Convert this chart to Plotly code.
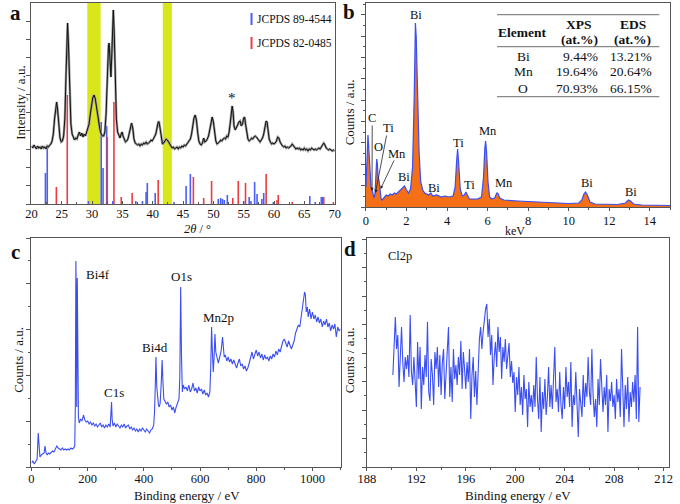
import numpy as np
import plotly.graph_objects as go

W, H = 680, 504
FONT = "Liberation Serif"


def PX(x):
    return x / W


def PY(y):
    return 1 - y / H


# ---------------- Panel a: XRD ----------------
xrd_2theta = [20.0, 20.2, 20.4, 20.6, 20.8, 21.0, 21.2, 21.4, 21.6, 21.8, 22.0, 22.2, 22.4, 22.6, 22.8, 23.0,
              23.2, 23.4, 23.6, 23.8, 24.0, 24.15, 24.3, 24.5, 24.7, 24.9, 25.1, 25.3, 25.5, 25.7, 25.85, 25.95,
              26.1, 26.3, 26.5, 26.7, 26.9, 27.1, 27.3, 27.5, 27.7, 27.9, 28.1, 28.3, 28.5, 28.7, 28.9, 29.1,
              29.3, 29.5, 29.7, 29.9, 30.1, 30.3, 30.5, 30.7, 30.9, 31.1, 31.3, 31.5, 31.7, 31.9, 32.1, 32.3,
              32.5, 32.7, 32.8, 32.95, 33.1, 33.25, 33.4, 33.5, 33.65, 33.8, 34.0, 34.2, 34.4, 34.6, 34.8, 34.95,
              35.1, 35.3, 35.5, 35.7, 35.9, 36.1, 36.3, 36.5, 36.7, 36.9, 37.1, 37.3, 37.5, 37.7, 37.9, 38.1,
              38.3, 38.5, 38.7, 38.9, 39.1, 39.3, 39.5, 39.7, 39.9, 40.1, 40.3, 40.5, 40.7, 40.9, 41.05, 41.2,
              41.4, 41.6, 41.8, 42.0, 42.2, 42.4, 42.6, 42.8, 43.0, 43.2, 43.4, 43.6, 43.8, 44.0, 44.2, 44.4,
              44.6, 44.8, 45.0, 45.2, 45.4, 45.6, 45.8, 46.0, 46.2, 46.4, 46.6, 46.8, 47.0, 47.2, 47.4, 47.6,
              47.8, 48.0, 48.2, 48.4, 48.6, 48.8, 49.0, 49.2, 49.4, 49.6, 49.8, 50.0, 50.2, 50.4, 50.6, 50.8,
              51.0, 51.2, 51.4, 51.6, 51.8, 52.0, 52.2, 52.4, 52.6, 52.8, 53.0, 53.1, 53.25, 53.4, 53.6, 53.8,
              54.0, 54.2, 54.4, 54.6, 54.8, 55.0, 55.15, 55.3, 55.5, 55.7, 55.9, 56.1, 56.3, 56.5, 56.7, 56.9,
              57.1, 57.3, 57.5, 57.7, 57.9, 58.1, 58.3, 58.5, 58.7, 58.85, 59.0, 59.2, 59.4, 59.6, 59.8, 60.0,
              60.2, 60.4, 60.6, 60.8, 61.0, 61.2, 61.4, 61.6, 61.8, 62.0, 62.2, 62.4, 62.6, 62.8, 63.0, 63.2,
              63.4, 63.6, 63.8, 64.0, 64.2, 64.4, 64.6, 64.8, 65.0, 65.2, 65.4, 65.6, 65.8, 66.0, 66.2, 66.4,
              66.6, 66.8, 67.0, 67.2, 67.4, 67.6, 67.8, 68.0, 68.2, 68.4, 68.6, 68.8, 69.0, 69.2, 69.4, 69.6,
              69.8, 70.0]
xrd_intensity = [58, 56, 59, 57, 55, 58, 56, 57, 55, 58, 56, 57, 55, 58, 57, 59,
                 60, 63, 70, 85, 98, 102, 95, 78, 66, 62, 63, 68, 85, 130, 175, 181,
                 160, 110, 80, 70, 67, 64, 66, 65, 69, 72, 68, 71, 67, 70, 68, 72,
                 75, 80, 90, 100, 106, 109, 106, 98, 88, 80, 74, 70, 68, 68, 72, 90,
                 130, 158, 161, 140, 127, 150, 185, 194, 170, 120, 85, 72, 68, 66, 70, 72,
                 68, 64, 62, 63, 65, 70, 78, 81, 76, 65, 61, 60, 59, 60, 58, 60,
                 59, 61, 60, 62, 60, 61, 62, 64, 63, 65, 67, 70, 76, 82, 82, 75,
                 64, 60, 61, 63, 65, 64, 62, 59, 57, 56, 57, 55, 56, 57, 55, 57,
                 56, 58, 57, 59, 58, 60, 61, 63, 65, 70, 78, 86, 89, 84, 72, 63,
                 60, 59, 61, 66, 62, 63, 65, 68, 74, 83, 87, 82, 70, 63, 60, 61,
                 62, 64, 63, 65, 66, 65, 68, 67, 72, 82, 95, 98, 92, 78, 74, 76,
                 79, 82, 83, 78, 80, 86, 87, 80, 70, 65, 63, 64, 66, 65, 67, 68,
                 67, 65, 63, 62, 64, 66, 70, 76, 83, 82, 74, 65, 62, 60, 61, 60,
                 61, 63, 67, 66, 62, 59, 58, 57, 58, 56, 57, 56, 57, 58, 60, 58,
                 56, 55, 56, 55, 56, 54, 55, 54, 56, 54, 55, 53, 55, 54, 56, 55,
                 54, 55, 54, 55, 56, 55, 57, 59, 61, 59, 56, 55, 54, 55, 54, 53,
                 54, 53]

jcpds_89_4544_pos = [22.3, 22.6, 29.4, 31.5, 31.8, 32.4, 33.4, 37.2, 38.3, 38.9, 39.1, 40.4, 43.5, 45.5,
                     46.2, 50.8, 51.2, 51.5, 51.8, 52.3, 55.0, 55.9, 56.2, 56.8, 57.2, 58.0, 58.3, 59.9,
                     65.9, 66.8, 67.8, 68.0]
jcpds_89_4544_int = [31, 56, 3, 82, 36, 78, 3, 3, 3, 12, 21, 11, 2, 18,
                     30, 5, 6, 5, 4, 9, 3, 7, 3, 22, 10, 5, 11, 2,
                     8, 2, 7, 7]
jcpds_82_0485_pos = [24.1, 25.9, 32.5, 33.6, 34.8, 36.6, 40.9, 46.7, 48.4, 49.7, 53.2, 54.1, 55.3,
                     58.7, 60.5, 60.7, 63.0, 68.2, 69.8]
jcpds_82_0485_int = [17, 109, 67, 102, 7, 11, 24, 27, 6, 23, 6, 23, 21,
                     30, 4, 9, 2, 7, 2]
highlight_bands = [(29.2, 31.4), (41.65, 43.15)]
legend_labels = ["JCPDS 89-4544", "JCPDS 82-0485"]

# ---------------- Panel b: EDS ----------------
eds_kev = [0.00, 0.05, 0.10, 0.15, 0.20, 0.25, 0.30, 0.35, 0.40, 0.45, 0.50, 0.53, 0.56, 0.60, 0.65, 0.70,
           0.75, 0.80, 0.90, 1.00, 1.10, 1.20, 1.30, 1.40, 1.50, 1.60, 1.70, 1.80, 1.90, 2.00, 2.10, 2.20,
           2.30, 2.38, 2.44, 2.48, 2.55, 2.62, 2.70, 2.80, 2.90, 3.00, 3.10, 3.20, 3.30, 3.50, 3.70, 3.90,
           4.10, 4.30, 4.40, 4.47, 4.52, 4.57, 4.65, 4.75, 4.85, 4.93, 5.00, 5.10, 5.30, 5.50, 5.70, 5.80,
           5.86, 5.90, 5.95, 6.02, 6.10, 6.20, 6.35, 6.45, 6.50, 6.60, 6.80, 7.00, 7.50, 8.00, 8.50, 9.00,
           9.50, 10.00, 10.50, 10.65, 10.75, 10.83, 10.92, 11.05, 11.30, 11.80, 12.40, 12.80, 12.95, 13.05,
           13.20, 13.60, 14.20, 15.00]
eds_counts = [20, 50, 72, 55, 30, 20, 17, 12, 9, 14, 38, 48, 44, 30, 26, 15,
              8, 7, 9, 12, 11, 13, 12, 14, 13, 15, 16, 19, 21, 17, 14, 18,
              40, 110, 184, 170, 110, 55, 25, 17, 14, 13, 12, 14, 11, 12, 10, 11,
              10, 11, 20, 45, 58, 45, 18, 11, 12, 15, 12, 8, 8, 8, 10, 30,
              58, 66, 55, 25, 10, 8, 9, 14, 14, 9, 7, 6.5, 6, 5.5, 5, 4.5,
              4, 3.5, 4, 7, 13, 15, 12, 5, 3, 2.5, 2.5, 4, 7, 6,
              3, 2, 1.5, 1.5]
eds_labels = ["Bi", "C", "O", "Ti", "Mn", "Bi", "Bi", "Ti", "Ti", "Mn", "Mn", "Bi", "Bi"]
eds_label_kev = [2.45, 0.32, 0.6, 1.1, 1.55, 1.9, 3.35, 4.55, 5.1, 6.0, 6.8, 10.9, 13.05]
eds_label_cnt = [192, 89, 60, 79, 53, 30, 19, 64, 22, 76, 24, 24, 15]

table_elements = ["Bi", "Mn", "O"]
table_xps = ["9.44%", "19.64%", "70.93%"]
table_eds = ["13.21%", "20.64%", "66.15%"]

# ---------------- Panel c: XPS survey ----------------
xps_be = [0, 5, 10, 15, 20, 24, 27, 30, 35, 40, 45, 48, 52, 56, 60, 65, 70, 75, 80, 85, 90, 95, 100, 105,
          110, 115, 120, 125, 130, 135, 140, 145, 150, 154, 156, 158, 160, 161, 163, 165, 167, 170, 175,
          180, 185, 190, 195, 200, 205, 210, 215, 220, 225, 230, 235, 240, 245, 250, 255, 260, 265, 270,
          275, 280, 283, 285, 287, 290, 295, 300, 305, 310, 315, 320, 325, 330, 335, 340, 345, 350, 355,
          360, 365, 370, 375, 380, 385, 390, 395, 400, 405, 410, 415, 420, 425, 430, 435, 438, 441, 443,
          446, 449, 452, 455, 458, 462, 465, 468, 471, 475, 480, 485, 490, 495, 500, 505, 510, 515, 520,
          525, 528, 531, 534, 537, 540, 545, 550, 555, 560, 565, 570, 575, 580, 585, 590, 595, 600, 605,
          610, 615, 620, 625, 630, 635, 638, 641, 644, 647, 650, 653, 656, 660, 665, 670, 675, 680, 683,
          686, 690, 695, 700, 705, 710, 715, 720, 725, 730, 735, 740, 745, 750, 755, 760, 765, 770, 775,
          780, 785, 790, 795, 800, 805, 810, 815, 820, 825, 830, 835, 840, 845, 850, 855, 860, 865, 870,
          875, 880, 885, 890, 895, 900, 905, 910, 915, 920, 925, 930, 935, 940, 945, 950, 955, 960, 965,
          968, 972, 975, 978, 982, 985, 990, 995, 1000, 1005, 1010, 1015, 1020, 1025, 1030, 1035, 1040,
          1045, 1050, 1055, 1060, 1065, 1070, 1075, 1080, 1085, 1090, 1095, 1100]
xps_counts = [4, 6, 3, 5, 8, 34, 15, 10, 12, 13, 14, 21, 14, 12, 14, 13, 15, 16, 15, 18, 21, 19, 18, 17,
              19, 17, 18, 17, 18, 17, 19, 18, 19, 21, 60, 206, 150, 60, 189, 120, 50, 44, 48,
              46, 52, 47, 45, 46, 43, 45, 42, 44, 41, 43, 40, 42, 44, 40, 42, 39, 42, 40,
              43, 40, 50, 65, 48, 41, 44, 40, 43, 41, 39, 42, 40, 43, 39, 41, 42, 38, 40,
              37, 39, 36, 38, 35, 38, 36, 39, 37, 35, 38, 36, 34, 37, 38, 42, 55, 85, 110,
              80, 65, 62, 60, 64, 85, 107, 85, 68, 66, 63, 65, 60, 62, 57, 60, 54, 60, 64,
              68, 90, 180, 110, 75, 82, 78, 80, 76, 82, 75, 78, 84, 76, 79, 74, 80, 76, 78,
              73, 77, 72, 74, 70, 75, 100, 140, 115, 95, 110, 133, 115, 108, 104, 110, 116, 130, 122,
              110, 112, 106, 110, 105, 108, 103, 107, 102, 99, 104, 108, 101, 103, 98, 101, 96, 99, 104,
              110, 115, 108, 114, 117, 111, 115, 109, 113, 107, 112, 108, 110, 106, 111, 108, 113, 110, 116,
              112, 118, 115, 121, 126, 128, 124, 120, 126, 122, 118, 122, 126, 134, 138, 142, 140, 150, 158,
              165, 175, 172, 155, 160, 150, 158, 148, 155, 148, 152, 145, 150, 144, 148, 140, 146,
              142, 148, 140, 144, 136, 142, 138, 143, 130, 140, 136, 138]
xps_labels = ["Bi4f", "C1s", "Bi4d", "O1s", "Mn2p"]
xps_label_be = [191, 295, 438, 535, 665]
xps_label_cnt = [193, 75, 120, 191, 150]

# ---------------- Panel d: Cl2p ----------------
cl2p_start, cl2p_step = 190.1, 0.1
cl2p_counts = [92, 128, 150, 118, 132, 80, 122, 140, 105, 85, 110, 98, 112, 90, 152, 95, 82, 110, 86, 60,
               125, 88, 120, 58, 100, 82, 112, 90, 145, 75, 66, 108, 92, 62, 115, 98, 120, 80, 112, 72,
               104, 118, 68, 96, 110, 140, 70, 100, 65, 118, 88, 102, 82, 110, 92, 126, 78, 115, 98, 78,
               105, 85, 118, 48, 92, 110, 70, 96, 62, 100,
               128, 140, 118, 135, 150, 158, 163, 130, 148, 112, 132, 82, 110, 125, 100, 140, 115, 130, 88, 120,
               105, 128, 98, 112, 124, 90, 106, 84, 95, 55,
               90, 72, 100, 62, 80, 52, 92, 68, 78, 40, 85, 60, 72, 55, 82, 60, 110, 68, 48, 90,
               35, 75, 58, 88, 52, 70, 100, 60, 82, 58, 95, 120, 65, 78, 55, 95, 62, 48, 80, 58,
               100, 70, 85, 60, 105, 40, 72, 62, 95, 55, 30, 78, 65, 50, 92, 60, 84, 70, 110, 75,
               62, 118, 72, 50, 68, 40, 88, 62, 108, 70, 55, 80, 62, 92, 35, 78, 66, 85, 60, 72,
               48, 88, 65, 78, 50, 118, 62, 40, 82, 58, 90, 45, 75, 60, 85, 65, 92, 48, 140, 45, 80]
cl2p_be = np.round(cl2p_start + cl2p_step * np.arange(len(cl2p_counts)), 2)

BLUE = "#3a4ef2"
STICK_BLUE = "#4b5ef5"
STICK_RED = "#ec3c40"
ORANGE = "#f56f16"
YELLOW = "#d9e619"
AXC = "#555555"


def sticks(pos, vals):
    xs, ys = [], []
    for p, v in zip(pos, vals):
        xs += [p, p, None]
        ys += [0, v, None]
    return xs, ys


fig = go.Figure()

# panel a
bx, by = sticks(jcpds_89_4544_pos, jcpds_89_4544_int)
fig.add_trace(go.Scatter(x=bx, y=by, mode="lines", line=dict(color=STICK_BLUE, width=1.6),
                         xaxis="x", yaxis="y", showlegend=False, hoverinfo="skip"))
rx, ry = sticks(jcpds_82_0485_pos, jcpds_82_0485_int)
fig.add_trace(go.Scatter(x=rx, y=ry, mode="lines", line=dict(color=STICK_RED, width=1.6),
                         xaxis="x", yaxis="y", showlegend=False, hoverinfo="skip"))
fig.add_trace(go.Scatter(x=xrd_2theta, y=xrd_intensity, mode="lines", line=dict(color="#999999", width=2.4),
                         xaxis="x", yaxis="y", showlegend=False))
fig.add_trace(go.Scatter(x=xrd_2theta, y=xrd_intensity, mode="lines", line=dict(color="#111111", width=1.0),
                         xaxis="x", yaxis="y", showlegend=False))

# panel b
fig.add_trace(go.Scatter(x=eds_kev, y=eds_counts, mode="lines", fill="tozeroy", fillcolor=ORANGE,
                         line=dict(color=BLUE, width=1.2), xaxis="x2", yaxis="y2", showlegend=False))

# panel c
fig.add_trace(go.Scatter(x=xps_be, y=xps_counts, mode="lines", line=dict(color=BLUE, width=1.1),
                         xaxis="x3", yaxis="y3", showlegend=False))

# panel d
fig.add_trace(go.Scatter(x=cl2p_be, y=cl2p_counts, mode="lines", line=dict(color=BLUE, width=1.1),
                         xaxis="x4", yaxis="y4", showlegend=False))


def xax(dom, rng, dtick, minor, tick0=None, anchor="y", standoff=0, ticks="outside"):
    d = dict(domain=dom, range=rng, dtick=dtick, ticks=ticks, ticklen=3, tickcolor=AXC,
             showline=True, linecolor=AXC, linewidth=1, mirror=True, showgrid=False, zeroline=False,
             tickfont=dict(family=FONT, size=12.5, color="#111"), anchor=anchor,
             ticklabelstandoff=standoff,
             minor=dict(dtick=minor, ticks=ticks, ticklen=2, tickcolor=AXC))
    if tick0 is not None:
        d["tick0"] = tick0
        d["minor"]["tick0"] = tick0
    return d


def yax(dom, rng, dtick, minor=None, anchor="x"):
    d = dict(domain=dom, range=rng, tick0=0, dtick=dtick, ticks="outside", ticklen=4, tickcolor=AXC,
             showline=True, linecolor=AXC, linewidth=1, mirror=True, showgrid=False, zeroline=False,
             showticklabels=False, anchor=anchor)
    if minor:
        d["minor"] = dict(tick0=0, dtick=minor, ticks="outside", ticklen=2, tickcolor=AXC)
    return d


fig.update_layout(
    width=W, height=H, margin=dict(l=0, r=0, t=0, b=0),
    paper_bgcolor="white", plot_bgcolor="white",
    font=dict(family=FONT, size=13, color="#111"),
    xaxis=xax([PX(23), PX(333)], [20, 70], 5, 2.5, anchor="y", standoff=-2, ticks="inside"),
    yaxis=yax([PY(204), PY(3)], [0, 201], 18.3, anchor="x"),
    xaxis2=xax([PX(365), PX(676)], [0, 15], 2, 1, anchor="y2", standoff=-1),
    yaxis2=yax([PY(207), PY(3)], [0, 204], 21.35, 10.675, anchor="x2"),
    xaxis3=xax([PX(23), PX(339)], [0, 1100], 200, 100, anchor="y3", standoff=-3),
    yaxis3=yax([PY(467), PY(238)], [0, 229], 45.8, 22.9, anchor="x3"),
    xaxis4=xax([PX(366), PX(675)], [188, 212.45], 4, 2, tick0=188, anchor="y4", standoff=-3),
    yaxis4=yax([PY(467), PY(238)], [0, 229], 28.5, 14.25, anchor="x4"),
)

shapes = []
for x0, x1 in highlight_bands:
    shapes.append(dict(type="rect", xref="x", yref="y domain", x0=x0, x1=x1, y0=0, y1=1,
                       fillcolor=YELLOW, line=dict(width=0), layer="below"))
# legend marks in panel a
for i, c in enumerate([STICK_BLUE, STICK_RED]):
    yc = 19 + 24 * i
    shapes.append(dict(type="line", xref="paper", yref="paper", x0=PX(248), x1=PX(248),
                       y0=PY(yc - 6), y1=PY(yc + 6), line=dict(color=c, width=2)))
# table lines in panel b
for yy in [14.7, 46.7, 96.7]:
    shapes.append(dict(type="line", xref="paper", yref="paper", x0=PX(499), x1=PX(665),
                       y0=PY(yy), y1=PY(yy), line=dict(color="#8a8a8a", width=1.2)))

ann = []


def A(text, x, y, xref="paper", yref="paper", size=13, xanchor="center", yanchor="middle", **kw):
    if xref == "paper":
        x = PX(x)
    if yref == "paper":
        y = PY(y)
    ann.append(dict(text=text, x=x, y=y, xref=xref, yref=yref, showarrow=False,
                    font=dict(family=FONT, size=size, color=kw.pop("color", "#111")),
                    xanchor=xanchor, yanchor=yanchor, borderpad=0, **kw))


# panel letters
A("<b>a</b>", 7, 13, size=21)
A("<b>b</b>", 348, 12, size=21)
A("<b>c</b>", 7, 252, size=21)
A("<b>d</b>", 349, 249, size=21)

# axis titles
A("Intensity / a.u.", 12, 103, textangle=-90)
A("<i>2θ</i> / °", 193, 229, size=12.5)
A("Counts / a.u.", 348, 112, textangle=-90)
A("keV", 517, 231, size=12)
A("Counts / a.u.", 9, 360, textangle=-90)
A("Binding energy / eV", 182, 495)
A("Counts / a.u.", 348, 360, textangle=-90)
A("Binding energy / eV", 520, 495)

# panel a legend and asterisk
for i, t in enumerate(legend_labels):
    A(t, 253, 19 + 24 * i, size=11.5, xanchor="left")
A("*", 53.1, 106, xref="x", yref="y", size=15)

# panel b labels
for t, xv, yv in zip(eds_labels, eds_label_kev, eds_label_cnt):
    A(t, xv, yv, xref="x2", yref="y2", size=12.5)
for (hx, hy, tx, ty) in [(0.3, 16, 0.31, 83), (0.47, 14, 1.03, 73), (0.72, 18, 1.42, 48)]:
    ann.append(dict(x=hx, y=hy, ax=tx, ay=ty, xref="x2", yref="y2", axref="x2", ayref="y2",
                    text="", showarrow=True, arrowhead=2, arrowsize=0.8, arrowwidth=0.8, arrowcolor="#222"))

# table
A("<b>Element</b>", 525, 32, size=13.5)
A("<b>XPS</b>", 583, 24, size=13.5)
A("<b>(at.%)</b>", 583, 40, size=13.5)
A("<b>EDS</b>", 638, 24, size=13.5)
A("<b>(at.%)</b>", 638, 40, size=13.5)
for i, (e, xp, ed) in enumerate(zip(table_elements, table_xps, table_eds)):
    yy = 56 + 16 * i
    A(e, 526, yy, size=13.5)
    A(xp, 603, yy, size=13.5, xanchor="right")
    A(ed, 659, yy, size=13.5, xanchor="right")

# panel c labels
for t, xv, yv in zip(xps_labels, xps_label_be, xps_label_cnt):
    A(t, xv, yv, xref="x3", yref="y3", size=13, xanchor="left" if t == "Bi4f" else "center")

# panel d label
A("Cl2p", 387, 256, size=12.5, xanchor="left")

fig.update_layout(shapes=shapes, annotations=ann)
fig.write_html("out.html", config={"displayModeBar": False},
               post_script="document.body.style.margin='0';document.body.style.overflow='hidden';")
